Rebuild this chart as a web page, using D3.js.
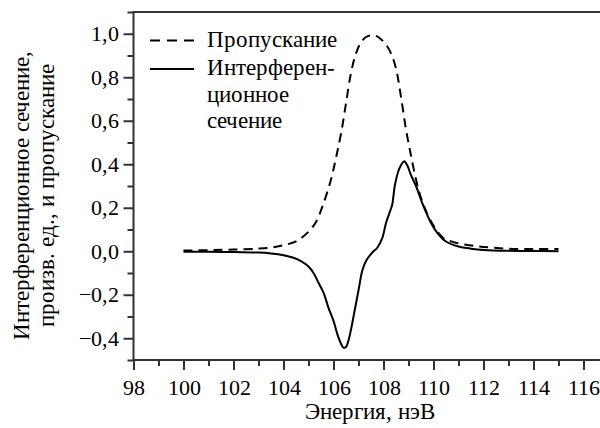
<!DOCTYPE html>
<html><head><meta charset="utf-8">
<style>
@font-face{font-family:"ChartSerif";src:local("Liberation Serif"),local("LiberationSerif"),local("LiberationSerif-Regular"),local("Times New Roman");}
body{margin:0;background:#fff}
#chart text{font-family:"ChartSerif","Liberation Serif",serif !important;}
</style>
<script src="https://cdn.jsdelivr.net/npm/d3@7"></script>
</head><body>
<svg id="chart" width="600" height="428"></svg>
<script>
// Transmission (dashed)
const energyT = [100, 101, 102, 103, 103.6, 104, 104.5, 105, 105.3, 105.6, 105.9, 106.1, 106.3, 106.5, 106.7, 106.9, 107.1, 107.3, 107.5, 107.7, 107.9, 108.1, 108.3, 108.5, 108.7, 108.9, 109.1, 109.3, 109.5, 109.8, 110.1, 110.4, 110.8, 111.3, 112, 113, 114, 115];
const transmission = [0.003, 0.005, 0.008, 0.012, 0.018, 0.028, 0.045, 0.09, 0.135, 0.22, 0.33, 0.43, 0.54, 0.68, 0.82, 0.91, 0.96, 0.985, 0.993, 0.99, 0.975, 0.95, 0.91, 0.84, 0.71, 0.56, 0.44, 0.33, 0.245, 0.16, 0.1, 0.06, 0.042, 0.03, 0.02, 0.012, 0.01, 0.01];
// Interference cross-section (solid)
const energyI = [100, 101, 102, 103, 103.5, 104, 104.4, 104.7, 105, 105.2, 105.4, 105.6, 105.8, 106, 106.15, 106.3, 106.4, 106.5, 106.6, 106.7, 106.85, 107, 107.15, 107.3, 107.45, 107.6, 107.75, 107.95, 108.1, 108.25, 108.35, 108.45, 108.6, 108.72, 108.83, 108.95, 109.1, 109.3, 109.6, 109.9, 110.15, 110.5, 111, 111.5, 112, 113, 114, 115];
const interference = [-0.002, -0.002, -0.004, -0.006, -0.01, -0.018, -0.03, -0.045, -0.07, -0.1, -0.145, -0.19, -0.26, -0.32, -0.38, -0.425, -0.443, -0.44, -0.41, -0.36, -0.27, -0.18, -0.09, -0.045, -0.02, 0.0, 0.016, 0.06, 0.13, 0.18, 0.215, 0.3, 0.37, 0.4, 0.414, 0.395, 0.35, 0.3, 0.207, 0.13, 0.085, 0.045, 0.022, 0.012, 0.006, 0.002, 0.001, 0.0];

const xMajor = [98, 100, 102, 104, 106, 108, 110, 112, 114, 116];
const xMinor = [99, 101, 103, 105, 107, 109, 111, 113, 115];
const yMajor = [-0.4, -0.2, 0.0, 0.2, 0.4, 0.6, 0.8, 1.0];
const yMinor = [-0.5, -0.3, -0.1, 0.1, 0.3, 0.5, 0.7, 0.9, 1.1];
const legendLabels = ["Пропускание", ["Интерферен-", "ционное", "сечение"]];
const xTitle = "Энергия, нэВ";
const yTitle = ["Интерференционное сечение,", "произв. ед., и пропускание"];

const svg = d3.select("#chart");
const L = 133.5, R = 600, T = 12, B = 360;
const x = d3.scaleLinear().domain([98, 98 + (R - L) / 25]).range([L, R]);
const y = d3.scaleLinear().domain([-0.5, 1.1]).range([B, T]);
const font = "ChartSerif, Liberation Serif, serif";
const axisColor = "#333";
const fmt = d => (d < 0 ? "\u2212" : "") + Math.abs(d).toFixed(1).replace(".", ",");
const serif = sel => sel.attr("font-family", font);

// minor ticks
const gxm = svg.append("g").attr("transform", `translate(0,${B})`)
  .call(d3.axisBottom(x).tickValues(xMinor).tickSize(6).tickFormat(""));
const gym = svg.append("g").attr("transform", `translate(${L},0)`)
  .call(d3.axisLeft(y).tickValues(yMinor).tickSize(6).tickFormat(""));
// major
const gx = svg.append("g").attr("transform", `translate(0,${B})`)
  .call(d3.axisBottom(x).tickValues(xMajor).tickSize(10).tickPadding(9).tickSizeOuter(0).tickFormat(d3.format("d")));
const gy = svg.append("g").attr("transform", `translate(${L},0)`)
  .call(d3.axisLeft(y).tickValues(yMajor).tickSize(10).tickPadding(5).tickSizeOuter(0).tickFormat(fmt));
[gxm, gym].forEach(g => g.select(".domain").remove());
[gx, gy, gxm, gym].forEach(g => {
  serif(g).attr("font-size", 22);
  g.selectAll("line").attr("stroke", axisColor).attr("stroke-width", 2);
  g.selectAll(".domain").attr("stroke", axisColor).attr("stroke-width", 2);
  serif(g.selectAll("text")).attr("font-size", 22).attr("fill", "#000");
});
gx.select(".domain").attr("d", `M${L},0H${R}`);
gy.select(".domain").attr("d", `M0,${B}V${T}`);
// top border
svg.append("line").attr("x1", L - 1).attr("x2", R).attr("y1", T).attr("y2", T)
  .attr("stroke", axisColor).attr("stroke-width", 2);

// curves
const line = d3.line().x(d => x(d[0])).y(d => y(d[1])).curve(d3.curveCatmullRom.alpha(0.5));
svg.append("path").datum(energyT.map((e, i) => [e, transmission[i]]))
  .attr("d", line).attr("fill", "none").attr("stroke", "#000").attr("stroke-width", 2)
  .attr("stroke-dasharray", "9,6");
svg.append("path").datum(energyI.map((e, i) => [e, interference[i]]))
  .attr("d", line).attr("fill", "none").attr("stroke", "#000").attr("stroke-width", 2);

// legend
svg.append("line").attr("x1", 150).attr("x2", 194).attr("y1", 40.5).attr("y2", 40.5)
  .attr("stroke", "#000").attr("stroke-width", 2).attr("stroke-dasharray", "10,7");
svg.append("line").attr("x1", 150).attr("x2", 194).attr("y1", 69).attr("y2", 69)
  .attr("stroke", "#000").attr("stroke-width", 2);
const lt = serif(svg.append("g")).attr("font-size", 23);
serif(lt.append("text")).attr("x", 207).attr("y", 47).text(legendLabels[0]);
[75, 101.5, 128].forEach((yy, i) => serif(lt.append("text")).attr("x", 207).attr("y", yy).text(legendLabels[1][i]));

// titles
serif(svg.append("text")).attr("x", 370).attr("y", 419).attr("text-anchor", "middle")
  .attr("font-size", 23).text(xTitle);
const yt = serif(svg.append("text")).attr("transform", "translate(0,195) rotate(-90)")
  .attr("text-anchor", "middle").attr("font-size", 23);
yt.append("tspan").attr("x", 0).attr("y", 29).text(yTitle[0]);
yt.append("tspan").attr("x", 0).attr("y", 54).text(yTitle[1]);
</script>
</body></html>
